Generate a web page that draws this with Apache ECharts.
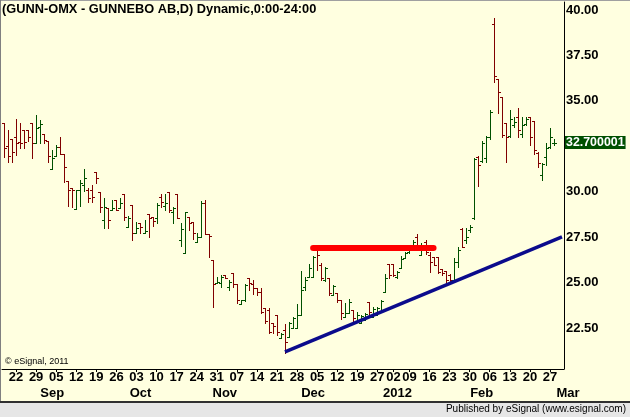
<!DOCTYPE html>
<html>
<head>
<meta charset="utf-8">
<script src="https://cdn.jsdelivr.net/npm/echarts@6/dist/echarts.min.js"></script>
<style>
html, body { margin: 0; padding: 0; background: #ffffe0; }
#chart { width: 630px; height: 417px; }
</style>
</head>
<body>
<div id="chart"></div>
<script>
// daily OHLC, GUNN-OMX, 17 Aug 2011 .. 28 Feb 2012
const opens = [
  33.79, 32.52, 32.91, 33.02, 32.74, 33.40, 33.40, 33.79, 32.69, 33.57,
  33.18, 32.80, 31.26, 31.97, 32.47, 32.08, 30.60, 30.21, 29.06, 30.10,
  30.38, 30.10, 30.10, 31.09, 29.99, 28.45, 29.11, 29.00, 29.55, 29.11,
  29.88, 28.07, 29.28, 27.74, 28.29, 27.74, 28.78, 28.62, 28.56, 29.72,
  29.22, 29.99, 28.89, 29.88, 27.35, 26.64, 28.62, 28.34, 27.24, 27.52,
  29.39, 27.68, 26.25, 24.99, 24.99, 25.43, 24.77, 25.54, 24.93, 23.83,
  24.05, 25.26, 24.93, 24.71, 24.49, 23.61, 23.50, 22.79, 23.23, 21.96,
  22.40, 22.02, 22.51, 22.51, 23.23, 24.77, 25.32, 25.32, 26.80, 25.98,
  25.15, 25.26, 24.33, 24.44, 24.05, 23.12, 23.34, 23.50, 22.84, 22.79,
  22.95, 23.94, 23.12, 23.23, 23.39, 24.49, 26.03, 26.03, 25.32, 25.81,
  26.36, 26.69, 26.80, 27.52, 26.53, 27.24, 26.53, 26.42, 26.42, 25.76,
  25.65, 25.43, 25.15, 26.14, 27.96, 27.35, 27.90, 28.56, 31.92, 31.70,
  31.86, 33.02, 39.23, 36.20, 35.22, 33.79, 33.07, 33.68, 34.12, 33.18,
  33.73, 34.12, 33.90, 32.14, 30.93, 31.92, 32.47, 32.69
];
const highs = [
  33.79, 33.40, 32.91, 34.00, 33.79, 33.40, 33.40, 33.79, 34.22, 33.95,
  33.18, 32.80, 32.30, 32.58, 33.02, 32.08, 30.60, 30.21, 30.10, 30.65,
  31.26, 30.21, 30.38, 31.09, 29.99, 29.66, 29.11, 29.55, 29.55, 29.66,
  29.88, 28.67, 29.28, 28.34, 28.29, 28.45, 28.78, 28.62, 29.39, 29.88,
  29.88, 29.99, 29.17, 29.88, 28.29, 28.89, 28.62, 28.34, 27.74, 29.50,
  29.55, 27.68, 26.25, 25.32, 25.43, 25.43, 25.15, 25.54, 24.93, 24.05,
  24.93, 25.26, 25.15, 24.71, 24.71, 23.61, 23.61, 22.79, 23.23, 22.24,
  22.73, 22.84, 23.12, 23.83, 25.65, 25.32, 26.03, 26.47, 26.86, 26.09,
  25.87, 25.26, 24.88, 24.44, 24.05, 23.89, 24.11, 23.50, 23.39, 23.23,
  23.34, 23.94, 23.67, 23.67, 24.05, 25.48, 26.03, 26.03, 25.65, 26.47,
  26.69, 26.97, 27.35, 27.68, 27.19, 27.35, 26.69, 26.42, 26.42, 25.76,
  25.65, 25.48, 26.36, 26.97, 28.01, 28.01, 28.18, 31.86, 31.97, 32.80,
  33.07, 34.50, 39.56, 36.20, 35.22, 33.79, 34.50, 34.12, 34.61, 34.12,
  34.12, 34.12, 33.90, 32.19, 31.59, 32.69, 33.51, 32.91
];
const lows = [
  31.92, 31.64, 31.64, 32.03, 32.41, 32.41, 32.80, 31.86, 32.69, 32.69,
  32.69, 31.64, 31.26, 31.97, 32.08, 30.54, 29.22, 29.17, 29.06, 29.22,
  30.05, 29.44, 29.44, 30.49, 28.89, 28.01, 28.01, 29.00, 29.00, 29.11,
  28.45, 28.07, 27.35, 27.74, 27.74, 27.74, 27.52, 28.12, 28.29, 29.17,
  29.00, 28.89, 28.29, 28.56, 27.02, 26.64, 27.90, 27.41, 27.24, 27.52,
  27.68, 26.42, 23.67, 24.99, 24.77, 25.26, 24.60, 24.77, 23.89, 23.83,
  24.00, 24.60, 24.38, 24.33, 23.34, 22.79, 22.24, 22.24, 22.13, 21.96,
  21.14, 22.02, 22.51, 22.51, 23.23, 24.60, 25.32, 25.32, 25.70, 25.15,
  25.10, 24.33, 24.33, 23.94, 23.01, 23.12, 23.34, 22.90, 22.84, 22.79,
  22.95, 23.23, 23.12, 23.23, 23.39, 24.49, 25.26, 25.37, 25.26, 25.81,
  26.36, 26.64, 26.80, 26.80, 26.53, 26.58, 25.59, 25.98, 25.54, 25.43,
  24.88, 25.04, 25.04, 25.87, 26.97, 27.19, 27.79, 28.51, 30.32, 31.64,
  31.64, 32.91, 36.04, 34.34, 33.02, 31.64, 33.02, 33.57, 33.02, 33.02,
  33.68, 32.58, 32.08, 31.37, 30.65, 31.48, 32.41, 32.58
];
const closes = [
  32.41, 31.97, 32.19, 32.69, 32.69, 32.74, 33.02, 32.69, 33.51, 33.73,
  32.85, 31.97, 31.86, 32.47, 32.08, 31.37, 30.10, 30.10, 30.10, 30.49,
  30.76, 29.66, 29.72, 30.76, 29.17, 29.17, 28.45, 29.11, 29.00, 29.39,
  28.62, 28.56, 27.74, 28.01, 28.07, 27.85, 28.56, 28.40, 29.28, 29.44,
  29.39, 29.00, 29.11, 28.56, 27.96, 28.89, 28.29, 27.74, 27.52, 29.39,
  27.68, 27.57, 24.93, 25.04, 25.32, 25.26, 25.04, 24.93, 24.05, 24.05,
  24.88, 24.99, 24.71, 24.49, 23.39, 22.90, 22.29, 22.62, 22.29, 22.18,
  21.74, 22.79, 23.06, 23.23, 24.60, 25.15, 25.81, 26.42, 26.53, 25.26,
  25.81, 24.44, 24.82, 24.05, 23.34, 23.34, 23.94, 23.06, 23.23, 23.17,
  23.28, 23.39, 23.56, 23.61, 24.00, 25.26, 25.43, 25.43, 25.59, 26.31,
  26.64, 26.91, 27.24, 26.97, 26.97, 26.69, 26.14, 25.98, 25.59, 25.54,
  25.15, 25.15, 26.14, 26.80, 26.97, 27.52, 28.07, 31.81, 31.48, 32.69,
  33.02, 34.39, 36.37, 35.49, 33.13, 33.02, 34.00, 33.84, 33.40, 33.68,
  34.00, 33.02, 32.30, 31.59, 31.53, 32.41, 33.02, 32.70
];

// trading calendar (Stockholm holidays skipped), axis runs to 1 Mar 2012
const firstDay = [2011, 7, 17];
const holidays = ['2011-12-26', '2012-01-06'];
const dayCount = 140;
const priceTicks = [22.5, 25, 27.5, 30, 35, 37.5, 40];
const monthMarks = { 12: 'Sep', 34: 'Oct', 55: 'Nov', 77: 'Dec', 98: '2012', 119: 'Feb', 139: 'Mar' };
const lastPrice = 32.700001;
// hand drawn lines: [day index, price]
const supportLine = [[70, 21.18], [139, 27.51]];
const resistLine = [[77, 26.90], [107, 26.90]];

const dates = [];
const d = new Date(Date.UTC(firstDay[0], firstDay[1], firstDay[2]));
while (dates.length < dayCount) {
  const s = d.toISOString().slice(0, 10);
  const wd = d.getUTCDay();
  if (wd !== 0 && wd !== 6 && !holidays.includes(s)) dates.push(s);
  d.setUTCDate(d.getUTCDate() + 1);
}
const weekOf = s => Math.floor((Date.parse(s) / 86400000 + 3) / 7);
const isWeekStart = i => i > 0 && weekOf(dates[i]) !== weekOf(dates[i - 1]);

const bars = opens.map((o, i) => [i, o, highs[i], lows[i], closes[i]]);

const UP = '#005000';
const DOWN = '#800000';
const FONT = 'Liberation Sans';

const renderBar = (params, api) => {
  const i = api.value(0);
  const o = api.coord([i, api.value(1)]);
  const h = api.coord([i, api.value(2)]);
  const l = api.coord([i, api.value(3)]);
  const c = api.coord([i, api.value(4)]);
  const xi = Math.round(h[0]);
  const x = xi + 0.5;
  const color = api.value(4) >= api.value(1) ? UP : DOWN;
  const st = { stroke: color, lineWidth: 1 };
  return {
    type: 'group',
    children: [
      { type: 'line', shape: { x1: x, y1: Math.round(h[1]), x2: x, y2: Math.round(l[1]) + 1 }, style: st },
      { type: 'line', shape: { x1: xi - 2, y1: Math.round(o[1]) + 0.5, x2: xi, y2: Math.round(o[1]) + 0.5 }, style: st },
      { type: 'line', shape: { x1: xi + 1, y1: Math.round(c[1]) + 0.5, x2: xi + 3, y2: Math.round(c[1]) + 0.5 }, style: st }
    ]
  };
};

const chart = echarts.init(document.getElementById('chart'));
chart.setOption({
  backgroundColor: '#ffffe0',
  animation: false,
  title: {
    text: '(GUNN-OMX - GUNNEBO AB,D) Dynamic,0:00-24:00',
    left: 2,
    top: 3,
    padding: 0,
    textStyle: { fontFamily: FONT, fontSize: 12.8, fontWeight: 'bold', color: '#000' }
  },
  grid: { left: 2, right: 66, top: 2, bottom: 48 },
  xAxis: [
    {
      type: 'category',
      data: dates,
      boundaryGap: true,
      axisLine: { lineStyle: { color: '#000', width: 1 } },
      axisTick: { show: true, interval: isWeekStart, alignWithLabel: true, length: 3, lineStyle: { color: '#000' } },
      axisLabel: {
        interval: isWeekStart,
        formatter: v => v.slice(8, 10),
        margin: 2,
        fontFamily: FONT, fontSize: 13, fontWeight: 'bold', color: '#000'
      },
      splitLine: { show: false }
    },
    {
      type: 'category',
      data: dates,
      position: 'bottom',
      offset: 16,
      axisLine: { show: false },
      axisTick: { show: false },
      axisLabel: {
        interval: i => monthMarks[i] !== undefined,
        formatter: (v, i) => (i === dayCount - 1 ? '{r|' + monthMarks[i] + '}' : monthMarks[i] || ''),
        margin: 2,
        fontFamily: FONT, fontSize: 13, fontWeight: 'bold', color: '#000',
        rich: { r: { fontFamily: FONT, fontSize: 13, fontWeight: 'bold', color: '#000', padding: [0, 0, 0, 12] } }
      },
      splitLine: { show: false }
    }
  ],
  yAxis: {
    type: 'value',
    position: 'right',
    min: 20.24,
    max: 40.44,
    axisLine: { show: true, lineStyle: { color: '#000', width: 1 } },
    axisTick: { show: false },
    splitLine: { show: false },
    axisLabel: {
      customValues: priceTicks,
      formatter: v => v.toFixed(2),
      margin: 2,
      fontFamily: FONT, fontSize: 13, fontWeight: 'bold', color: '#000'
    }
  },
  series: [
    {
      type: 'custom',
      renderItem: renderBar,
      encode: { x: 0, y: [1, 2, 3, 4] },
      data: bars,
      markLine: {
        symbol: ['none', 'none'],
        silent: true,
        animation: false,
        data: [
          [
            { coord: resistLine[0], lineStyle: { color: '#ff0000', width: 6, type: 'solid', cap: 'round' }, label: { show: false } },
            { coord: resistLine[1] }
          ],
          [
            { coord: supportLine[0], lineStyle: { color: '#0b0b8c', width: 3.5, type: 'solid' }, label: { show: false } },
            { coord: supportLine[1] }
          ],
          {
            yAxis: lastPrice,
            lineStyle: { color: 'rgba(0,0,0,0)', width: 1 },
            label: {
              show: true,
              position: 'end',
              distance: 1,
              formatter: '32.700001',
              backgroundColor: '#005000',
              color: '#fff',
              padding: [1, 1, 0, 1],
              fontFamily: FONT, fontSize: 12.4, fontWeight: 'bold'
            }
          }
        ]
      }
    }
  ],
  graphic: [
    { type: 'rect', left: 0, top: 0, shape: { width: 630, height: 1 }, style: { fill: '#a0a0a0' } },
    { type: 'rect', left: 0, top: 0, shape: { width: 1, height: 402 }, style: { fill: '#808080' } },
    { type: 'rect', left: 0, top: 401, shape: { width: 630, height: 2 }, style: { fill: '#303030' } },
    { type: 'rect', left: 0, top: 403, shape: { width: 630, height: 14 }, style: { fill: '#e6e6e6' } },
    {
      type: 'text', right: 4, top: 404,
      style: { text: 'Published by eSignal (www.esignal.com)', font: '10px "Liberation Sans"', fill: '#000' }
    },
    {
      type: 'text', left: 5, top: 357,
      style: { text: '\u00a9 eSignal, 2011', font: '9px "Liberation Sans"', fill: '#000' }
    }
  ]
});
</script>
</body>
</html>
